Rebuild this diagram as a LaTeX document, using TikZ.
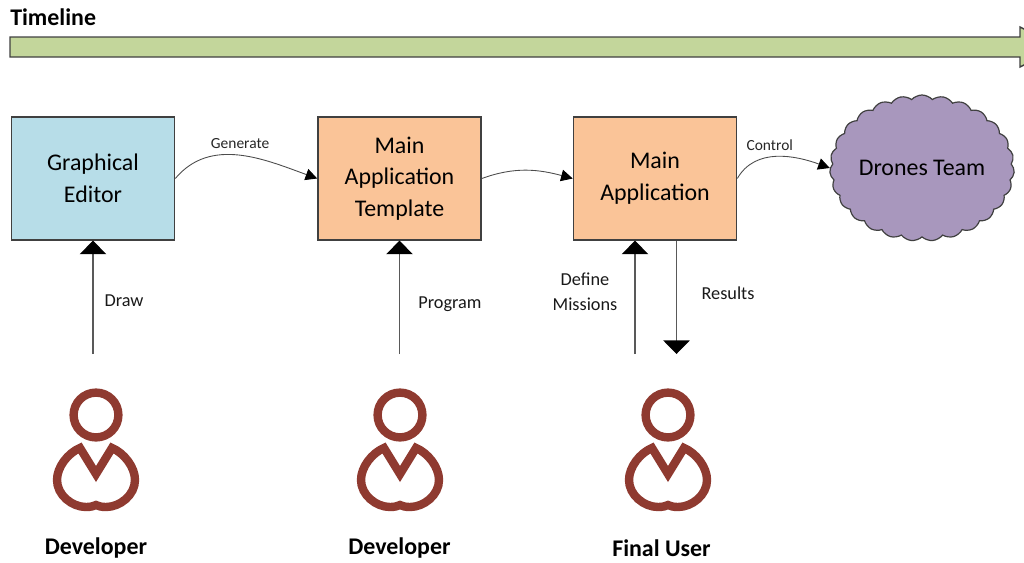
\documentclass[tikz,border=0pt]{standalone}
\usepackage{fontspec}
\setmainfont{Carlito}
\usepackage{xcolor}
\usetikzlibrary{positioning, arrows.meta, shapes.symbols}

\definecolor{boxblue}{HTML}{B7DDE8}
\definecolor{boxorange}{HTML}{FAC498}
\definecolor{barGreen}{HTML}{C3D69B}
\definecolor{cloudpurple}{HTML}{A897BD}
\definecolor{personred}{HTML}{8F3A30}
\definecolor{edgegray}{HTML}{404040}

\tikzset{
    block/.style={rectangle, draw=edgegray, line width=0.35mm, minimum width=4.08cm, minimum height=3.07cm, align=center, font=\fontsize{17}{22.5}\selectfont},
    small label/.style={font=\fontsize{11}{14}\selectfont, text=black!85},
    mid label/.style={font=\fontsize{13}{18}\selectfont, align=center, text=black!90},
    user label/.style={font=\fontsize{17}{20}\selectfont\bfseries},
    big arrow/.style={draw=black!65, line width=0.3mm, -{Triangle[width=6.6mm, length=3.4mm, color=black]}},
    thin arrow/.style={draw=black!70, line width=0.22mm, -{Triangle[width=2.9mm, length=2.9mm, color=black]}},
    pics/person/.style={code={
        \node[circle, draw=personred, line width=2.1mm, minimum size=11.2mm, inner sep=0pt] (-head) at (0, 0) {};
        \draw[personred, line width=2.1mm, line join=miter]
            (-16, 33) -- (0, 59) -- (16, 33)
            .. controls (28, 38) and (39, 52) .. (39, 65)
            .. controls (39, 80) and (24, 92) .. (10, 92)
            .. controls (5, 92) and (2, 91) .. (0, 90)
            .. controls (-2, 91) and (-5, 92) .. (-10, 92)
            .. controls (-24, 92) and (-39, 80) .. (-39, 65)
            .. controls (-39, 52) and (-28, 38) .. (-16, 33) -- cycle;
    }}
}

\begin{document}
\begin{tikzpicture}[x=0.25mm, y=-0.25mm]
    \clip (0, 0) rectangle (1024, 562);

    % timeline
    \node[font=\fontsize{17}{20}\selectfont\bfseries, anchor=west, inner sep=0pt] (timeline) at (10, 17) {Timeline};
    \draw[draw=edgegray, line width=0.35mm, fill=barGreen] (10, 37) -- (1020, 37) -- (1020, 27) -- (1060, 47) -- (1020, 67) -- (1020, 57) -- (10, 57) -- cycle;

    % boxes
    \node[block, fill=boxblue] (editor) at (93, 178.5) {Graphical\\Editor};
    \node[block, fill=boxorange] (template) at (399.5, 178.5) {Main\\Application\\Template};
    \node[block, fill=boxorange] (app) at (655, 178.5) {Main\\Application};
    \node[cloud, cloud puffs=27, cloud puff arc=95, aspect=1.3, draw=edgegray, line width=0.3mm, fill=cloudpurple, minimum width=4.55cm, minimum height=3.65cm, inner sep=0pt, font=\fontsize{17}{22}\selectfont] (drones) at (922, 168) {Drones Team};

    % users
    \pic (dev1) at (96, 415) {person};
    \pic (dev2) at (400, 415) {person};
    \pic (user) at (668, 415) {person};
    \node[user label] (dev1name) at (96, 548) {Developer};
    \node[user label] (dev2name) at (399.5, 548) {Developer};
    \node[user label] (username) at (661.5, 548) {Final User};

    \coordinate (draw1) at (93, 354);
    \coordinate (prog1) at (399.5, 354);
    \coordinate (def1) at (635, 354);
    \coordinate (res1) at (676.5, 354);

    % connectors
    \draw[thin arrow] (editor.east) to[out=50, in=160] node[small label, above=1pt] {Generate} (template.west);
    \draw[thin arrow] (template.east) to[out=20, in=165] (app.west);
    \draw[thin arrow] (app.east) to[out=60, in=160] node[small label, pos=0.42, above=1pt] {Control} (drones.west);
    \draw[big arrow] (draw1) -- (draw1 |- editor.south);
    \draw[big arrow] (prog1) -- (prog1 |- template.south);
    \draw[big arrow] (def1) -- (def1 |- app.south);
    \draw[big arrow] (res1 |- app.south) -- (res1);

    % arrow labels
    \node[mid label] (drawlabel) at (124, 301) {Draw};
    \node[mid label] (proglabel) at (450, 304) {Program};
    \node[mid label] (deflabel) at (585, 292) {Define\\Missions};
    \node[mid label] (reslabel) at (728, 293) {Results};
\end{tikzpicture}
\end{document}
